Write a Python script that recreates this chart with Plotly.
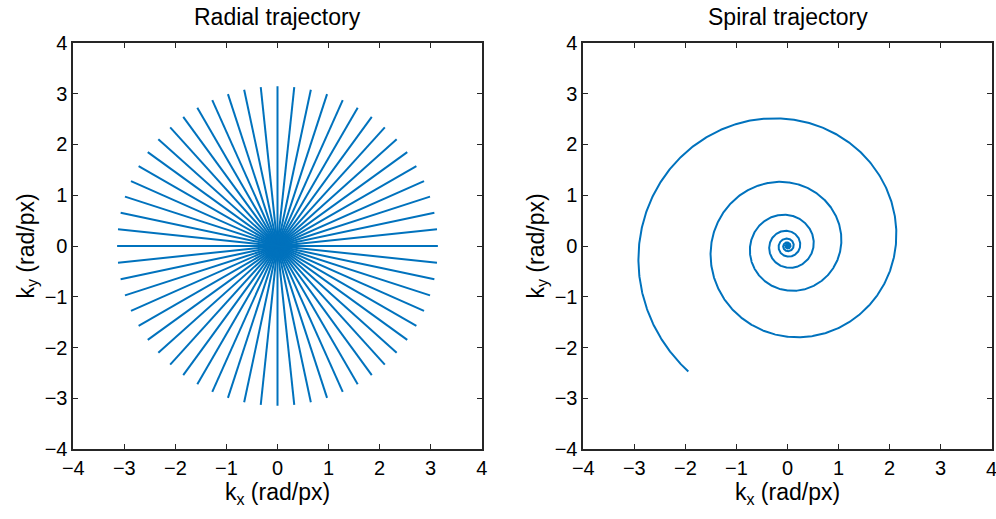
import numpy as np
import plotly.graph_objects as go

# ---- trajectory parameters ----
k_max = np.pi                 # k-space extent (rad/px)
n_spokes = 30                 # radial lines through the centre
spoke_samples = 64            # samples along each spoke

spiral_end_angle_deg = 231.8  # angle of the outer end of the spiral
spiral_turns = 9.0            # number of revolutions
growth_inner = 0.72           # ln(radius growth) per turn, inner part
growth_outer = 0.50           # ln(radius growth) per turn at the outer end
growth_blend = 0.40           # turns over which growth relaxes near the edge
spiral_samples = 6000

axis_ticks = [-4, -3, -2, -1, 0, 1, 2, 3, 4]
axis_range = [-4, 4]
titles = ["Radial trajectory", "Spiral trajectory"]

line_color = "#0072BD"
ink = "#262626"
font_family = "Liberation Sans, Arial, sans-serif"

# ---- radial trajectory: straight spokes through the origin ----
kr = np.linspace(-k_max, k_max, spoke_samples)
rad_x, rad_y = [], []
for m in range(n_spokes):
    phi = np.pi * m / n_spokes
    rad_x.extend(list(kr * np.cos(phi)) + [None])
    rad_y.extend(list(kr * np.sin(phi)) + [None])

# ---- spiral trajectory: radius roughly doubles every turn ----
u = np.linspace(-spiral_turns, 0.0, spiral_samples)   # turns before the outer end
log_r = growth_inner * u - (growth_inner - growth_outer) * growth_blend * (np.exp(u / growth_blend) - 1.0)
r = k_max * np.exp(log_r)
theta = np.deg2rad(spiral_end_angle_deg) + 2 * np.pi * u
spi_x = r * np.cos(theta)
spi_y = r * np.sin(theta)

fig = go.Figure()
fig.add_trace(go.Scatter(x=rad_x, y=rad_y, mode="lines",
                         line=dict(color=line_color, width=2),
                         xaxis="x", yaxis="y", showlegend=False, hoverinfo="skip"))
fig.add_trace(go.Scatter(x=spi_x, y=spi_y, mode="lines",
                         line=dict(color=line_color, width=2),
                         xaxis="x2", yaxis="y2", showlegend=False, hoverinfo="skip"))

W, H = 996, 519
left_px = [(73.3, 481.7), (583.3, 991.7)]
top_px, bot_px = 42.7, 449.3
ydom = [1 - bot_px / H, 1 - top_px / H]


def fmt(t):
    return ("\u2212" + str(-t)) if t < 0 else str(t)


tick_text = [fmt(t) for t in axis_ticks]
tick_font = dict(family=font_family, size=20, color="#000000")

axis_common = dict(
    range=axis_range, tickvals=axis_ticks, ticktext=tick_text,
    showgrid=False, zeroline=False, showline=True, linecolor=ink, linewidth=1.7,
    mirror="ticks", ticks="inside", ticklen=5, tickwidth=1.2, tickcolor=ink,
    tickfont=tick_font, fixedrange=True, automargin=False,
)
label_font = dict(family=font_family, size=23, color="#000000")

layout = dict(
    width=W, height=H, margin=dict(l=0, r=0, t=0, b=0, pad=0),
    paper_bgcolor="white", plot_bgcolor="white", showlegend=False,
)
for i, (x0, x1) in enumerate(left_px):
    sfx = "" if i == 0 else str(i + 1)
    layout["xaxis" + sfx] = dict(
        axis_common, domain=[x0 / W, x1 / W], anchor="y" + sfx,
        title=dict(text="k<sub>x</sub> (rad/px)", font=label_font, standoff=2),
    )
    layout["yaxis" + sfx] = dict(
        axis_common, domain=ydom, anchor="x" + sfx,
        title=dict(text="k<sub>y</sub> (rad/px)", font=label_font, standoff=4),
    )

fig.update_layout(**layout)

# the last x tick label of the right panel sits at the page edge, so it is
# written as an annotation (plotly drops tick labels that touch the edge)
last_tick = axis_ticks[-1]
fig.add_annotation(
    text=fmt(last_tick), xref="x2", yref="paper", x=last_tick, y=1 - 468.5 / H,
    xanchor="center", yanchor="middle", showarrow=False, font=tick_font,
)

for i, (x0, x1) in enumerate(left_px):
    fig.add_annotation(
        text=titles[i], xref="paper", yref="paper",
        x=(x0 + x1) / 2 / W, y=1 - 17 / H, xanchor="center", yanchor="middle",
        showarrow=False, font=dict(family=font_family, size=23, color="#000000"),
    )

fig.write_html("out.html")
